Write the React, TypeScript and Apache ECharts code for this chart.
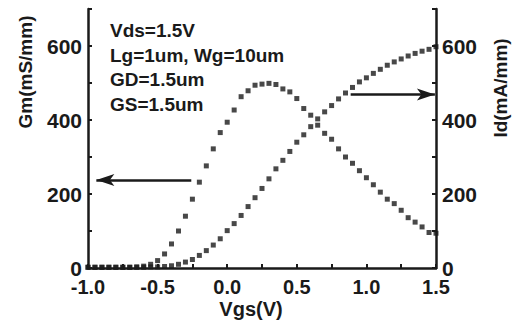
import React, { useEffect, useRef } from "react";
import * as echarts from "echarts";

const vgs = [
  -1.0, -0.95, -0.9, -0.85, -0.8, -0.75, -0.7, -0.65, -0.6, -0.55,
  -0.5, -0.45, -0.4, -0.35, -0.3, -0.25, -0.2, -0.15, -0.1, -0.05,
  0.0, 0.05, 0.1, 0.15, 0.2, 0.25, 0.3, 0.35, 0.4, 0.45,
  0.5, 0.55, 0.6, 0.65, 0.7, 0.75, 0.8, 0.85, 0.9, 0.95,
  1.0, 1.05, 1.1, 1.15, 1.2, 1.25, 1.3, 1.35, 1.4, 1.45, 1.5,
];

const gm = [
  2, 2, 2, 2, 2, 2, 2, 3, 5, 10,
  20, 38, 65, 100, 140, 186, 232, 276, 322, 366,
  394, 427, 463, 479, 494, 497, 499, 496, 484, 476,
  458, 431, 413, 386, 364, 348, 322, 300, 283, 263,
  244, 225, 205, 186, 174, 156, 136, 124, 111, 96, 94,
];

const id = [
  2, 2, 2, 2, 2, 2, 2, 2, 2, 3,
  3, 4, 6, 10, 16, 23, 34, 47, 62, 79,
  101, 120, 142, 166, 190, 215, 241, 268, 291, 315,
  340, 360, 382, 403, 422, 439, 457, 473, 488, 503,
  514, 526, 537, 548, 557, 565, 573, 580, 586, 591, 598,
];

const notes = ["Vds=1.5V", "Lg=1um, Wg=10um", "GD=1.5um", "GS=1.5um"];
const leftArrow = [[-0.258, 238], [-0.94, 238]];
const rightArrow = [[0.887, 469], [1.492, 469]];

const FONT = "'Liberation Sans', Arial, sans-serif";
const INK = "#1a1a1a";

export default function App() {
  const ref = useRef<HTMLDivElement>(null);
  useEffect(() => {
    if (!ref.current) return;
    const chart = echarts.init(ref.current, null, { renderer: "svg" });
    const axisCommon = {
      axisLine: { show: true, onZero: false, lineStyle: { color: INK, width: 2.5 } },
      axisTick: { show: true, inside: true, length: 4, lineStyle: { color: INK, width: 2 } },
      splitLine: { show: false },
    };
    const labelStyle = {
      color: INK,
      fontFamily: FONT,
      fontWeight: "bold" as const,
      fontSize: 21,
      lineHeight: 15,
    };
    chart.setOption({
      animation: false,
      backgroundColor: "#ffffff",
      grid: { left: 88, right: 83, top: 9, bottom: 63 },
      xAxis: {
        type: "value",
        min: -1,
        max: 1.5,
        interval: 0.25,
        ...axisCommon,
        axisLabel: {
          ...labelStyle,
          fontSize: 20,
          margin: 11,
          showMaxLabel: true,
          formatter: (v: number) => (Math.abs(Math.round(v * 2) - v * 2) < 1e-6 ? v.toFixed(1) : ""),
        },
      },
      yAxis: [
        {
          type: "value",
          min: 0,
          max: 700,
          interval: 100,
          position: "left",
          ...axisCommon,
          axisLabel: {
            ...labelStyle,
            margin: 6,
            formatter: (v: number) => (v % 200 === 0 && v <= 600 ? String(v) : ""),
          },
        },
        {
          type: "value",
          min: 0,
          max: 700,
          interval: 100,
          position: "right",
          ...axisCommon,
          axisLabel: {
            ...labelStyle,
            margin: 6,
            formatter: (v: number) => (v % 200 === 0 && v <= 600 ? String(v) : ""),
          },
        },
      ],
      series: [
        {
          type: "scatter",
          yAxisIndex: 0,
          symbol: "rect",
          symbolSize: 5,
          itemStyle: { color: INK },
          data: vgs.map((x, i) => [x, gm[i]]),
          markLine: {
            silent: true,
            symbol: ["none", "arrow"],
            symbolSize: [9, 18],
            label: { show: false },
            lineStyle: { color: INK, width: 2.5, type: "solid" },
            data: [[{ coord: leftArrow[0] }, { coord: leftArrow[1] }]],
          },
        },
        {
          type: "scatter",
          yAxisIndex: 1,
          symbol: "rect",
          symbolSize: 5,
          itemStyle: { color: INK },
          data: vgs.map((x, i) => [x, id[i]]),
          markLine: {
            silent: true,
            symbol: ["none", "arrow"],
            symbolSize: [9, 18],
            label: { show: false },
            lineStyle: { color: INK, width: 2.5, type: "solid" },
            data: [[{ coord: rightArrow[0] }, { coord: rightArrow[1] }]],
          },
        },
      ],
      graphic: [
        ...notes.map((t, i) => ({
          type: "text",
          left: 110,
          top: 21 + i * 24.5,
          style: { text: t, fill: INK, font: `bold 19px ${FONT}` },
        })),
        {
          type: "text",
          x: 25,
          y: 72,
          rotation: Math.PI / 2,
          style: { text: "Gm(mS/mm)", fill: INK, font: `bold 19px ${FONT}`, align: "center", verticalAlign: "middle" },
        },
        {
          type: "text",
          x: 500,
          y: 88,
          rotation: Math.PI / 2,
          style: { text: "Id(mA/mm)", fill: INK, font: `bold 19px ${FONT}`, align: "center", verticalAlign: "middle" },
        },
        {
          type: "text",
          x: 251,
          y: 309,
          style: { text: "Vgs(V)", fill: INK, font: `bold 20px ${FONT}`, align: "center", verticalAlign: "middle" },
        },
      ],
    });
    return () => chart.dispose();
  }, []);
  return <div ref={ref} style={{ position: "fixed", left: 0, top: 0, width: 519, height: 331 }} />;
}
